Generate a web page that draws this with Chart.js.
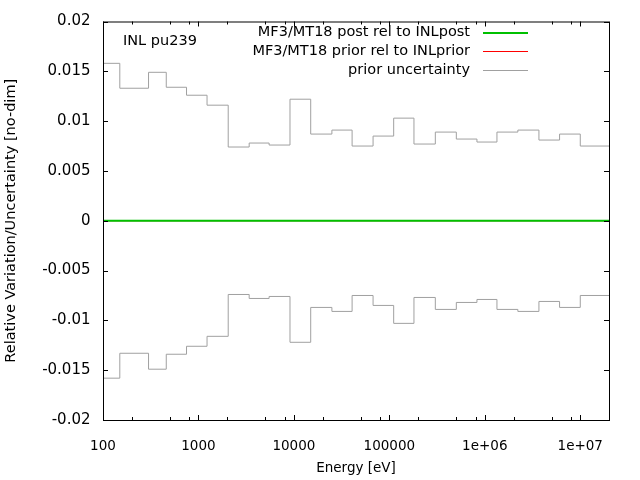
<!DOCTYPE html>
<html>
<head>
<meta charset="utf-8">
<script src="https://cdn.jsdelivr.net/npm/chart.js@4.4.0/dist/chart.umd.min.js"></script>
<style>
  html, body { margin: 0; padding: 0; background: #fff; }
</style>
</head>
<body>
<canvas id="myChart" width="640" height="480"></canvas>
<script>
/* group boundaries in eV (24 groups, 25 edges) */
const energyEdges = [100, 150, 300, 460, 750, 1230, 2050, 3400, 5500, 9100, 15000, 25000, 40700,
    67500, 111000, 181000, 303000, 503000, 827000, 1340000, 2220000, 3690000, 6070000, 10000000, 20000000];

/* one value per group */
const postRel = [0, 0, 0, 0, 0, 0, 0, 0, 0, 0, 0, 0, 0, 0, 0, 0, 0, 0, 0, 0, 0, 0, 0, 0];
const priorRel = [0, 0, 0, 0, 0, 0, 0, 0, 0, 0, 0, 0, 0, 0, 0, 0, 0, 0, 0, 0, 0, 0, 0, 0];
const priorUpper = [0.0158, 0.0133, 0.0149, 0.0134, 0.0126, 0.0116, 0.0074, 0.0078, 0.0076, 0.0122, 0.0087, 0.0091,
    0.0075, 0.0085, 0.0103, 0.0077, 0.0089, 0.0082, 0.0079, 0.0089, 0.0091, 0.0081, 0.0087, 0.0075];
const priorLower = [-0.0158, -0.0133, -0.0149, -0.0134, -0.0126, -0.0116, -0.0074, -0.0078, -0.0076, -0.0122, -0.0087, -0.0091,
    -0.0075, -0.0085, -0.0103, -0.0077, -0.0089, -0.0082, -0.0079, -0.0089, -0.0091, -0.0081, -0.0087, -0.0075];

const xTicks = [100, 1000, 10000, 100000, 1000000, 10000000];
const xMinorSteps = [2, 5, 8];
const yTicks = [-0.02, -0.015, -0.01, -0.005, 0, 0.005, 0.01, 0.015, 0.02];

/* histogram points: each value holds from its left edge to the next edge */
const toSteps = (vals) => energyEdges.map((e, i) => ({x: e, y: vals[Math.min(i, vals.length - 1)]}));

const fmtX = (v) => v >= 1e6 ? v.toExponential(0).replace(/e\+(\d)$/, 'e+0$1') : String(v);
const fmtY = (v) => String(+v.toFixed(4));

const FAMILY = "'DejaVu Sans', sans-serif";
Chart.defaults.font.family = FAMILY;
Chart.defaults.font.size = 13.5;
Chart.defaults.color = '#000';

/* gnuplot-like frame, inward ticks, legend and label */
const gnuplotFrame = {
    id: 'gnuplotFrame',
    afterDatasetsDraw(chart) {
        const {ctx, chartArea: a, scales: {x, y}} = chart;
        ctx.save();
        ctx.strokeStyle = '#000';
        ctx.lineWidth = 1;
        ctx.beginPath();
        const tick = (px, len, vertical) => {
            if (vertical) {
                ctx.moveTo(px, a.bottom); ctx.lineTo(px, a.bottom - len);
                ctx.moveTo(px, a.top); ctx.lineTo(px, a.top + len);
            } else {
                ctx.moveTo(a.left, px); ctx.lineTo(a.left + len, px);
                ctx.moveTo(a.right, px); ctx.lineTo(a.right - len, px);
            }
        };
        xTicks.forEach((v) => {
            tick(Math.round(x.getPixelForValue(v)) + 0.5, 5, true);
            xMinorSteps.forEach((m) => {
                const mv = v * m;
                if (mv < x.max) tick(Math.round(x.getPixelForValue(mv)) + 0.5, 3, true);
            });
        });
        yTicks.forEach((v) => tick(Math.round(y.getPixelForValue(v)) + 0.5, 5, false));
        ctx.stroke();
        ctx.strokeRect(a.left + 0.5, a.top + 0.5, a.right - a.left, a.bottom - a.top);

        /* label inside plot */
        ctx.fillStyle = '#000';
        ctx.font = '14.5px ' + FAMILY;
        ctx.textBaseline = 'middle';
        ctx.textAlign = 'left';
        ctx.fillText('INL pu239', 123, 41);

        /* legend: right-aligned text with sample line on the right */
        let row = 0;
        chart.data.datasets.forEach((ds) => {
            if (!ds.label) return;
            const ly = 32.5 + row * 18.7;
            ctx.textAlign = 'right';
            ctx.fillText(ds.label, 470, ly);
            const off = ds.borderWidth % 2 ? 0.5 : 0;
            ctx.strokeStyle = ds.borderColor;
            ctx.lineWidth = ds.borderWidth;
            ctx.beginPath();
            ctx.moveTo(483, Math.round(ly) + off);
            ctx.lineTo(528, Math.round(ly) + off);
            ctx.stroke();
            row++;
        });
        ctx.restore();
    }
};

const lineChart = new Chart(document.getElementById('myChart').getContext('2d'), {
    type: 'line',
    data: {
        datasets: [{
            label: 'MF3/MT18 post rel to INLpost',
            data: toSteps(postRel),
            borderColor: '#00c000',
            borderWidth: 2,
        }, {
            label: 'MF3/MT18 prior rel to INLprior',
            data: toSteps(priorRel),
            borderColor: '#ff0000',
            borderWidth: 1,
        }, {
            label: 'prior uncertainty',
            data: toSteps(priorUpper),
            borderColor: '#a0a0a0',
            borderWidth: 1,
        }, {
            label: '',
            data: toSteps(priorLower),
            borderColor: '#a0a0a0',
            borderWidth: 1,
        }]
    },
    options: {
        responsive: false,
        animation: false,
        devicePixelRatio: 1,
        datasets: {line: {stepped: true, pointRadius: 0, tension: 0}},
        layout: {padding: {top: 20, right: 31, left: 0, bottom: 0}},
        plugins: {legend: {display: false}, tooltip: {enabled: false}},
        scales: {
            x: {
                type: 'logarithmic',
                min: 100,
                max: 20000000,
                grid: {display: false},
                border: {display: false},
                afterBuildTicks: (s) => { s.ticks = xTicks.map((v) => ({value: v})); },
                afterFit: (s) => { s.height = 60; },
                ticks: {padding: 10.5, maxRotation: 0, autoSkip: false, callback: (v) => fmtX(v)},
                title: {display: true, text: 'Energy [eV]', padding: {top: 0, bottom: 3}}
            },
            y: {
                type: 'linear',
                min: -0.02,
                max: 0.02,
                grid: {display: false, drawTicks: false},
                border: {display: false},
                afterBuildTicks: (s) => { s.ticks = yTicks.map((v) => ({value: v})); },
                afterFit: (s) => { s.width = 103; },
                ticks: {padding: 12.5, font: {size: 15}, callback: (v) => fmtY(v)},
                title: {display: true, text: 'Relative Variation/Uncertainty [no-dim]', font: {size: 14.5},
                    padding: {top: 3, bottom: 0}}
            }
        }
    },
    plugins: [gnuplotFrame]
});
</script>
</body>
</html>
